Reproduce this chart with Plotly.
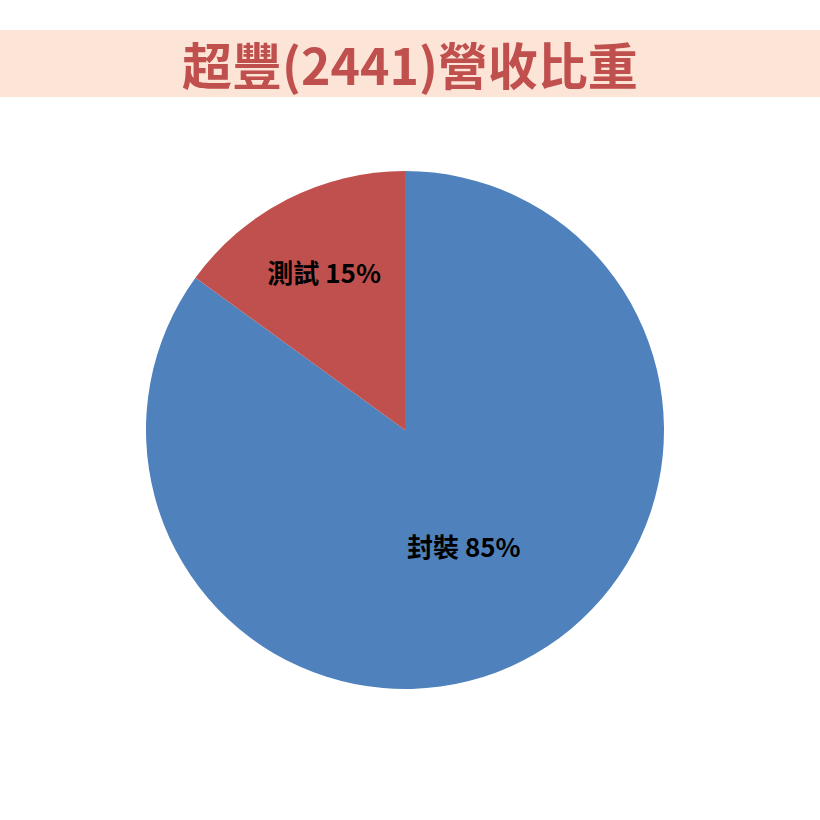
import plotly.graph_objects as go

labels = ["封裝", "測試"]
values = [85, 15]
colors = ["#4F81BD", "#C0504D"]
title = "超豐(2441)營收比重"

fig = go.Figure()
fig.add_trace(go.Pie(
    labels=labels,
    values=values,
    sort=False,
    direction="clockwise",
    rotation=0,
    marker=dict(colors=colors, line=dict(width=0)),
    texttemplate="<b>%{label} %{percent:.0%}</b>",
    textposition="inside",
    insidetextorientation="horizontal",
    textfont=dict(family="Noto Sans CJK TC", size=26, color="black"),
    domain=dict(x=[146/820, 664/820], y=[1-689/820, 1-171/820]),
    hoverinfo="label+percent",
))

# title band
fig.add_shape(type="rect", xref="paper", yref="paper",
              x0=0, x1=1, y0=1-97/820, y1=1-30/820,
              fillcolor="#FCE4D6", line=dict(width=0), layer="below")
fig.add_annotation(text="<b>" + title + "</b>", xref="paper", yref="paper",
                   x=0.5, y=1-63/820, xanchor="center", yanchor="middle", showarrow=False,
                   font=dict(family="Noto Sans CJK TC", size=50, color="#C0504D"))

fig.update_layout(
    width=820, height=820,
    margin=dict(l=0, r=0, t=0, b=0),
    paper_bgcolor="white",
    plot_bgcolor="white",
    showlegend=False,
)

fig.write_html("out.html", config={"displayModeBar": False},
               post_script="document.body.style.margin='0';")
